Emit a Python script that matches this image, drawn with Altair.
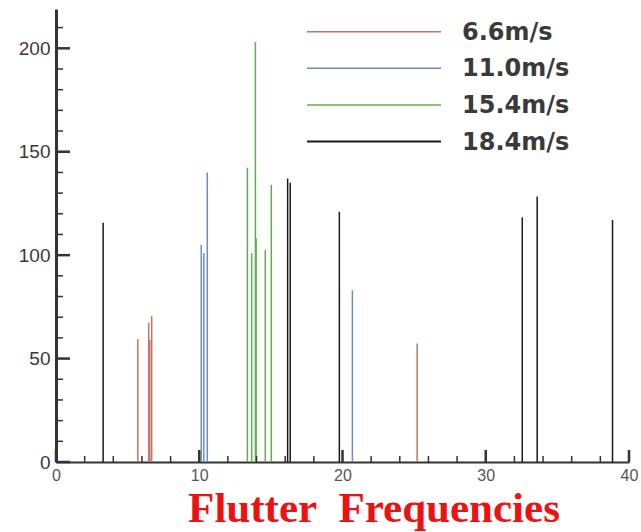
import altair as alt
import pandas as pd

series = ["6.6m/s", "11.0m/s", "15.4m/s", "18.4m/s"]
colors = ["#c47468", "#6d8bcf", "#62ad52", "#1a1a1a"]

freq_66 = [5.71, 6.47, 6.55, 6.68, 25.21]
amp_66 = [59.4, 67.3, 59.0, 70.7, 57.3]
freq_110 = [10.14, 10.32, 10.56, 20.69]
amp_110 = [105.0, 101.0, 140.0, 83.0]
freq_154 = [13.36, 13.66, 13.92, 13.97, 14.61, 15.03]
amp_154 = [142.3, 101.0, 203.0, 108.0, 102.5, 134.0]
freq_184 = [3.29, 16.17, 16.35, 19.78, 32.55, 33.59, 38.85]
amp_184 = [115.7, 137.0, 135.0, 121.0, 118.3, 128.3, 117.0]

x_major = [0, 10, 20, 30, 40]
x_minor = [2, 4, 6, 8, 12, 14, 16, 18, 22, 24, 26, 28, 32, 34, 36, 38]
y_major = [0, 50, 100, 150, 200]
y_minor = [10, 20, 30, 40, 60, 70, 80, 90, 110, 120, 130, 140, 160, 170, 180, 190, 210]

title_text = "Flutter\u2002Frequencies"

rows = []
for s, fs, ams in zip(series, [freq_66, freq_110, freq_154, freq_184],
                      [amp_66, amp_110, amp_154, amp_184]):
    for f, a in zip(fs, ams):
        rows.append({"series": s, "freq": f, "amp": a})
df = pd.DataFrame(rows)

W, H = 573, 453
xs = alt.Scale(domain=[0, 40], nice=False, zero=False)
ys = alt.Scale(domain=[0, 219], nice=False)
xaxis = alt.Axis(values=x_major, ticks=False, grid=False, title=None,
                 domainColor="#333333", domainWidth=2, labelFlush=False,
                 labelFont="Liberation Sans", labelFontSize=16,
                 labelColor="#555555", labelPadding=5)
yaxis = alt.Axis(values=y_major, ticks=False, grid=False, title=None,
                 domainColor="#333333", domainWidth=3, labelFlush=False,
                 labelFont="Liberation Sans", labelFontSize=19,
                 labelColor="#3a3a3a", labelPadding=6)
cscale = alt.Scale(domain=series, range=colors)

bars = alt.Chart(df).mark_rule().encode(
    x=alt.X("freq:Q", scale=xs, axis=xaxis),
    y=alt.Y("amp:Q", scale=ys, axis=yaxis),
    y2=alt.datum(0),
    color=alt.Color("series:N", scale=cscale, legend=None),
    strokeWidth=alt.StrokeWidth("series:N",
                                scale=alt.Scale(domain=series, range=[1.5, 1.5, 1.5, 2.2]),
                                legend=None),
)

def yticks(vals, length, sw):
    return alt.Chart(pd.DataFrame({"v": vals})).mark_rule(
        color="#333333", strokeWidth=sw).encode(
        y=alt.Y("v:Q", scale=ys, axis=yaxis),
        x=alt.value(0), x2=alt.value(length))

def xticks(vals, length, sw):
    return alt.Chart(pd.DataFrame({"v": vals})).mark_rule(
        color="#333333", strokeWidth=sw).encode(
        x=alt.X("v:Q", scale=xs, axis=xaxis),
        y=alt.value(H), y2=alt.value(H - length))

layers = [bars,
          yticks(y_major, 14, 2.5), yticks(y_minor, 7, 1.5),
          xticks(x_major, 12, 2.5), xticks(x_minor, 6, 1.5)]

for i, s in enumerate(series):
    ypx = 22.7 + 36.6 * i
    d = pd.DataFrame({"series": [s]})
    layers.append(alt.Chart(d).mark_rule(strokeWidth=2 if i == 3 else 1.5).encode(
        x=alt.value(251), x2=alt.value(385), y=alt.value(ypx),
        color=alt.Color("series:N", scale=cscale, legend=None)))
    layers.append(alt.Chart(d).mark_text(
        align="left", baseline="middle", font="DejaVu Sans", fontWeight="bold",
        fontSize=24, color="#3a3a3a").encode(
        x=alt.value(406), y=alt.value(ypx + 1), text="series:N"))

title = alt.Chart(pd.DataFrame({"t": [title_text]})).mark_text(
    font="Liberation Serif", fontWeight="bold", fontSize=43, color="#ee1111",
    align="center", baseline="alphabetic").encode(
    x=alt.value(318), y=alt.value(513), text="t:N")
layers.append(title)

chart = alt.layer(*layers).properties(
    width=W, height=H,
    autosize=alt.AutoSizeParams(type="none"),
    padding={"left": 56, "top": 9, "right": 12, "bottom": 70},
    background="white",
).configure_view(stroke=None)

chart.save("out.html", embed_options={"renderer": "svg", "actions": False})
